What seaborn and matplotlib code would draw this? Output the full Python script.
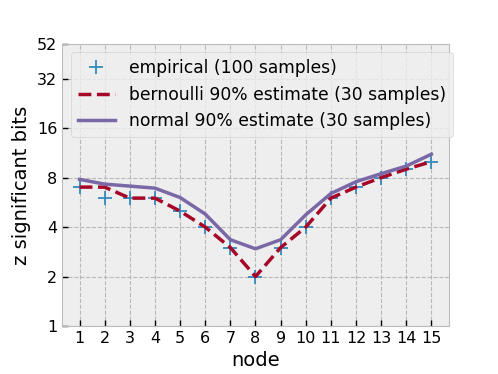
import numpy as np
import pandas as pd
import matplotlib
matplotlib.use("Agg")
import matplotlib.pyplot as plt
import matplotlib.ticker as mticker
import seaborn as sns

# values (z significant bits per node)
nodes = list(range(1, 16))
empirical = [7, 6, 6, 6, 5, 4, 3, 2, 3, 4, 6, 7, 8, 9, 10]
bernoulli = [7, 7, 6, 6, 5, 4, 3, 2, 3, 4, 6, 7, 8, 9, 10]
normal = [7.8, 7.3, 7.1, 6.9, 6.05, 4.8, 3.35, 2.95, 3.35, 4.75, 6.4, 7.55, 8.45, 9.4, 11.1]
yticks = [1, 2, 4, 8, 16, 32, 52]

plt.style.use("bmh")
plt.rcParams["font.family"] = ["DejaVu Sans"]
plt.rcParams["grid.linestyle"] = "--"
plt.rcParams["grid.color"] = "#b8b8b8"
plt.rcParams["grid.linewidth"] = 0.8

df = pd.DataFrame({"node": nodes, "empirical": empirical,
                   "bernoulli": bernoulli, "normal": normal})

fig, ax = plt.subplots(figsize=(4.98, 3.74), dpi=100)
fig.subplots_adjust(left=0.1245, right=0.9016, top=0.8824, bottom=0.1283)

sns.lineplot(data=df, x="node", y="empirical", ax=ax, marker="+", markersize=10,
             markeredgewidth=1.3, markeredgecolor="#348ABD", linestyle="none",
             color="#348ABD", label="empirical (100 samples)")
sns.lineplot(data=df, x="node", y="bernoulli", ax=ax, linestyle="--", linewidth=2.5,
             color="#A60628", label="bernoulli 90% estimate (30 samples)")
sns.lineplot(data=df, x="node", y="normal", ax=ax, linewidth=2.5,
             color="#7A68A6", label="normal 90% estimate (30 samples)")

ax.set_yscale("log", base=2)
ax.set_ylim(1, 52)
ax.yaxis.set_major_locator(mticker.FixedLocator(yticks))
ax.yaxis.set_major_formatter(mticker.FixedFormatter([str(t) for t in yticks]))
ax.yaxis.set_minor_locator(mticker.NullLocator())
ax.set_xticks(nodes)
ax.tick_params(direction="in", labelsize=11.5, length=4, width=1, color="black")
ax.set_xlabel("node", fontsize=14)
ax.set_ylabel("z significant bits", fontsize=14)

ax.legend(loc="upper right", bbox_to_anchor=(1.01, 0.97), fontsize=12.3,
          borderaxespad=0, handlelength=2.2)

fig.savefig("out.png", dpi=100)
